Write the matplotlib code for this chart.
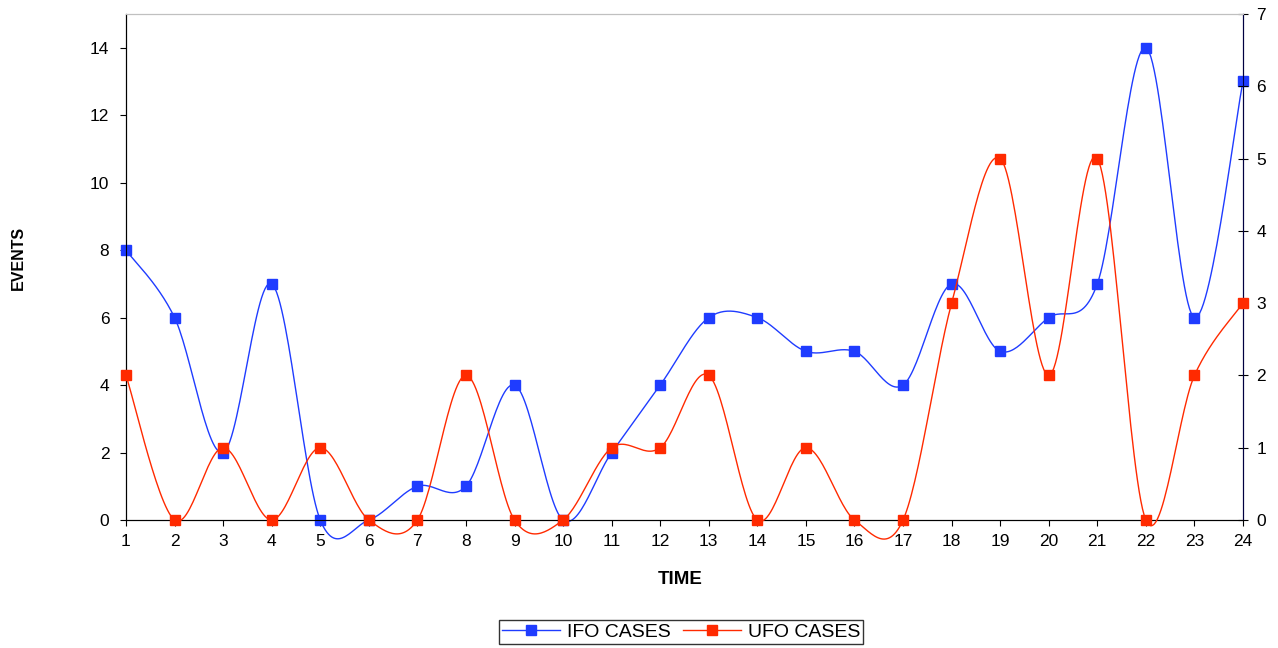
import numpy as np
import matplotlib
matplotlib.use("Agg")
import matplotlib.pyplot as plt
from matplotlib.lines import Line2D

plt.rcParams['font.family'] = ['Liberation Sans', 'DejaVu Sans']

# datos
tiempo = list(range(1, 25))
ifo_casos = [8, 6, 2, 7, 0, 0, 1, 1, 4, 0, 2, 4, 6, 6, 5, 5, 4, 7, 5, 6, 7, 14, 6, 13]
ufo_casos = [2, 0, 1, 0, 1, 0, 0, 2, 0, 0, 1, 1, 2, 0, 1, 0, 0, 3, 5, 2, 5, 0, 2, 3]


def suavizar(x, y, n=30):
    # curva tipo bezier como la linea suavizada de excel
    x = np.asarray(x, float)
    y = np.asarray(y, float)
    px = np.concatenate([[x[0]], x, [x[-1]]])
    py = np.concatenate([[y[0]], y, [y[-1]]])
    xs, ys = [], []
    t = np.linspace(0, 1, n)
    for i in range(1, len(px) - 2):
        p0 = np.array([px[i], py[i]])
        p3 = np.array([px[i + 1], py[i + 1]])
        p1 = p0 + (np.array([px[i + 1], py[i + 1]]) - np.array([px[i - 1], py[i - 1]])) / 6
        p2 = p3 - (np.array([px[i + 2], py[i + 2]]) - np.array([px[i], py[i]])) / 6
        b = ((1 - t) ** 3)[:, None] * p0 + (3 * (1 - t) ** 2 * t)[:, None] * p1 \
            + (3 * (1 - t) * t ** 2)[:, None] * p2 + (t ** 3)[:, None] * p3
        xs.extend(b[:, 0])
        ys.extend(b[:, 1])
    return xs, ys


fig = plt.figure(figsize=(12.78, 6.48), dpi=100)
ax = fig.add_axes([126 / 1278, 1 - 520 / 648, (1243 - 126) / 1278, (520 - 14) / 648])
ax2 = ax.twinx()

azul = '#1f3cff'
rojo = '#ff2a00'

sx, sy = suavizar(tiempo, ifo_casos)
ax.plot(sx, sy, color=azul, lw=1.0, clip_on=False, zorder=3)
ax.plot(tiempo, ifo_casos, ls='none', marker='s', ms=6.5, color=azul, mec=azul, clip_on=False, zorder=4)

ux, uy = suavizar(tiempo, ufo_casos)
ax2.plot(ux, uy, color=rojo, lw=1.0, clip_on=False, zorder=3)
ax2.plot(tiempo, ufo_casos, ls='none', marker='s', ms=6.5, color=rojo, mec=rojo, clip_on=False, zorder=4)

ax.set_xlim(1, 24)
ax.set_ylim(0, 15)
ax2.set_ylim(0, 7)
ax.set_xticks(tiempo)
ax.set_yticks(range(0, 15, 2))
ax2.set_yticks(range(0, 8))

ax.tick_params(axis='x', labelsize=12.5, length=4, direction='out', pad=6)
ax.tick_params(axis='y', labelsize=12.5, length=4, direction='out', pad=8)
ax2.tick_params(axis='y', labelsize=12.5, length=7, direction='inout', pad=6)

for a in (ax, ax2):
    a.spines['top'].set_color('#c0c0c0')
    a.spines['left'].set_color('black')
    a.spines['bottom'].set_color('black')
    a.spines['right'].set_color('#000040')

fig.text(680 / 1278, 1 - 580 / 648, 'TIME', fontsize=13.5, fontweight='bold', ha='center', va='center')
fig.text(18 / 1278, 1 - 258 / 648, 'EVENTS', fontsize=11.5, fontweight='bold', ha='center', va='center',
         rotation=90)

h1 = Line2D([], [], color=azul, lw=1.0, marker='s', ms=6.5)
h2 = Line2D([], [], color=rojo, lw=1.0, marker='s', ms=6.5)
fig.legend([h1, h2], ['IFO CASES', 'UFO CASES'], loc='center', bbox_to_anchor=(681 / 1278, 1 - 632 / 648),
           ncol=2, fontsize=14, frameon=True, fancybox=False, edgecolor='black', borderpad=0.15,
           handlelength=3.0, handletextpad=0.35, columnspacing=0.6, borderaxespad=0)

fig.savefig('out.png', dpi=100)
